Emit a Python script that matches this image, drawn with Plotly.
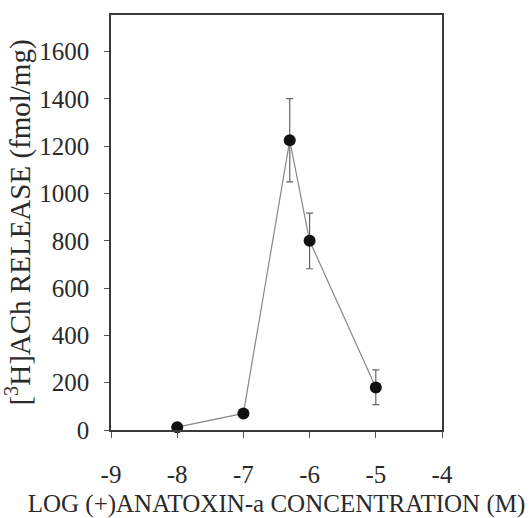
import plotly.graph_objects as go

log_conc = [-8, -7, -6.3, -6, -5]
release = [12, 70, 1225, 800, 180]
err_plus = [0, 0, 176, 117, 74]
err_minus = [0, 0, 176, 118, 73]

x_tickvals = [-9, -8, -7, -6, -5, -4]
x_ticktext = ["-9", "-8", "-7", "-6", "-5", "-4"]
y_tickvals = [0, 200, 400, 600, 800, 1000, 1200, 1400, 1600]

FONT = "Liberation Serif, Times New Roman, serif"
TXT = "#2a2a2a"

fig = go.Figure()
fig.add_trace(go.Scatter(
    x=log_conc, y=release, mode="lines+markers",
    line=dict(color="#888888", width=1.2),
    marker=dict(color="#111111", size=12),
    error_y=dict(type="data", symmetric=False, array=err_plus, arrayminus=err_minus,
                 color="#666666", thickness=1.2, width=3.5),
    cliponaxis=False,
    showlegend=False,
))

fig.update_layout(
    width=531, height=518,
    margin=dict(l=111, r=89, t=15, b=88),
    paper_bgcolor="white", plot_bgcolor="white",
    font=dict(family=FONT, color=TXT, size=24),
    xaxis=dict(
        range=[-9, -4], tickvals=x_tickvals, ticktext=x_ticktext,
        showgrid=False, zeroline=False, automargin=False,
        showline=True, linecolor="#3a3a3a", linewidth=1.5, mirror=True,
        ticks="outside", ticklen=6, tickcolor="#555555", tickwidth=1,
        ticklabelstandoff=15,
        tickfont=dict(family=FONT, size=25, color=TXT),
        title=dict(text="LOG (+)ANATOXIN-a CONCENTRATION (M)",
                   font=dict(family=FONT, size=25, color=TXT), standoff=8),
    ),
    yaxis=dict(
        range=[0, 1755], tickvals=y_tickvals,
        showgrid=False, zeroline=False, automargin=False,
        showline=True, linecolor="#3a3a3a", linewidth=1.5, mirror=True,
        ticks="outside", ticklen=5, tickcolor="#555555", tickwidth=1,
        ticklabelstandoff=10,
        tickfont=dict(family=FONT, size=25, color=TXT),
        title=dict(text="[<sup>3</sup>H]ACh RELEASE (fmol/mg)",
                   font=dict(family=FONT, size=29, color=TXT), standoff=2),
    ),
)

fig.write_html("out.html")
